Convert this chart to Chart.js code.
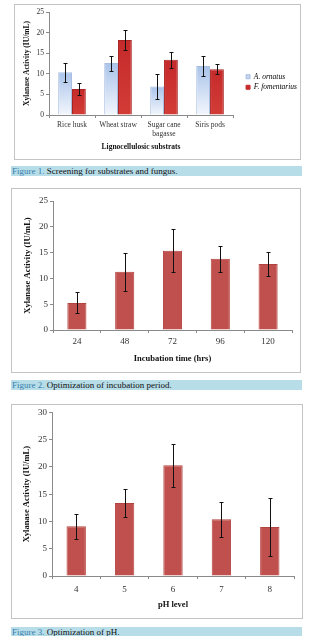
<!DOCTYPE html>
<html>
<head>
<meta charset="utf-8">
<script src="https://cdn.jsdelivr.net/npm/chart.js@4.4.1/dist/chart.umd.min.js"></script>
<style>
  html, body { margin: 0; padding: 0; background: #fff; }
  body { width: 318px; height: 636px; position: relative; overflow: hidden; font-family: "Liberation Serif", serif; }
  .box { position: absolute; border: 1px solid #c4c4c4; background: #fff; }
  .box canvas { display: block; }
  .cap { position: absolute; left: 11px; width: 290px; height: 10px; background: #b7dde8;
         font-size: 9px; line-height: 10px; color: #111; white-space: nowrap; padding-left: 1px; }
  .cap b { font-weight: normal; color: #3a7fae; }
</style>
</head>
<body>
<div class="box" style="left:14px; top:4px;"><canvas id="fig1" width="285" height="154"></canvas></div>
<div class="cap" style="top:166px;"><b>Figure 1.</b> Screening for substrates and fungus.</div>

<div class="box" style="left:11px; top:188px;"><canvas id="fig2" width="288" height="183"></canvas></div>
<div class="cap" style="top:380px;"><b>Figure 2.</b> Optimization of incubation period.</div>

<div class="box" style="left:11px; top:404px;"><canvas id="fig3" width="290" height="213"></canvas></div>
<div class="cap" style="top:627px;"><b>Figure 3.</b> Optimization of pH.</div>

<script>
// Figure 1: substrates x fungus
const substrates = ['Rice husk', 'Wheat straw', ['Sugar cane', 'bagasse'], 'Siris pods'];
const ornatus = [10.4, 12.6, 6.9, 11.9];
const ornatusErr = [2.3, 1.8, 3.1, 2.5];
const fomentarius = [6.3, 18.2, 13.4, 11.1];
const fomentariusErr = [1.4, 2.5, 2.0, 1.25];

// Figure 2: incubation time
const hours = ['24', '48', '72', '96', '120'];
const activityTime = [5.25, 11.3, 15.35, 13.8, 12.8];
const activityTimeErr = [2.05, 3.7, 4.2, 2.55, 2.25];

// Figure 3: pH
const phLevels = ['4', '5', '6', '7', '8'];
const activityPh = [9.1, 13.4, 20.3, 10.4, 9.0];
const activityPhErr = [2.25, 2.5, 3.95, 3.25, 5.35];

const serif = '"Liberation Serif", "Times New Roman", serif';
const axisGray = '#8a8a8a';

// draws +/- error bars on top of the bars, using the y scale
const errorBars = {
    id: 'errorBars',
    afterDatasetsDraw(chart) {
        const ctx = chart.ctx;
        const y = chart.scales.y;
        chart.data.datasets.forEach((ds, i) => {
            if (!ds.errors) return;
            const meta = chart.getDatasetMeta(i);
            meta.data.forEach((bar, j) => {
                const v = ds.data[j], e = ds.errors[j];
                const top = Math.round(y.getPixelForValue(v + e)) + 0.5;
                const bot = Math.round(y.getPixelForValue(v - e)) + 0.5;
                const x = Math.round(bar.x) + 0.5;
                ctx.save();
                ctx.strokeStyle = '#111';
                ctx.lineWidth = 1;
                ctx.beginPath();
                ctx.moveTo(x, top); ctx.lineTo(x, bot);
                ctx.moveTo(x - 2, top); ctx.lineTo(x + 2, top);
                ctx.moveTo(x - 2, bot); ctx.lineTo(x + 2, bot);
                ctx.stroke();
                ctx.restore();
            });
        });
    }
};

function barGradient(c0, c1, fallback) {
    return function (context) {
        const chart = context.chart;
        if (!chart.chartArea || context.raw === undefined) return fallback;
        const y = chart.scales.y;
        const g = chart.ctx.createLinearGradient(0, y.getPixelForValue(context.raw), 0, y.getPixelForValue(0));
        g.addColorStop(0, c0);
        g.addColorStop(1, c1);
        return g;
    };
}

function yAxis(max, width, fontSize, titleSize, titlePad) {
    return {
        min: 0, max: max,
        ticks: { stepSize: 5, color: '#333', padding: 2, font: { family: serif, size: fontSize } },
        grid: { display: true, drawOnChartArea: false, color: axisGray, tickLength: 3 },
        border: { color: axisGray },
        title: { display: true, text: 'Xylanase Activity (IU/mL)', color: '#111',
                 padding: titlePad, font: { family: serif, size: titleSize, weight: 'bold' } },
        afterFit(scale) { scale.width = width; }
    };
}

function xAxis(title, fontSize, titleSize, titlePad, tickPad) {
    return {
        ticks: { color: '#333', padding: tickPad, font: { family: serif, size: fontSize } },
        grid: { display: true, drawOnChartArea: false, color: axisGray, tickLength: 3, offset: true },
        border: { color: axisGray },
        title: { display: true, text: title, color: '#111', padding: titlePad,
                 font: { family: serif, size: titleSize, weight: 'bold' } }
    };
}

new Chart(document.getElementById('fig1'), {
    type: 'bar',
    data: {
        labels: substrates,
        datasets: [{
            label: 'A. ornatus',
            data: ornatus,
            errors: ornatusErr,
            backgroundColor: barGradient('#a9c3ea', '#f3f7fd', '#c9d8f0'),
            borderColor: '#a8bde0',
            borderWidth: 1
        }, {
            label: 'F. fomentarius',
            data: fomentarius,
            errors: fomentariusErr,
            backgroundColor: barGradient('#c52a2b', '#d23c36', '#c9302e'),
            borderColor: '#a82422',
            borderWidth: 1
        }]
    },
    options: {
        responsive: false,
        animation: false,
        layout: { padding: { top: 7, left: 0, right: -7, bottom: 7 } },
        datasets: { bar: { categoryPercentage: 0.6, barPercentage: 1.0 } },
        scales: {
            x: xAxis('Lignocellulosic substrats', 7.5, 7.5, { top: 1, bottom: 0 }, 3),
            y: yAxis(25, 34, 7.5, 7.5, { top: 8, bottom: 0 }),
            // empty spacer between the plot and the legend
            gap: {
                type: 'linear', position: 'right', display: true, min: 0, max: 1,
                grid: { display: false }, border: { display: false }, ticks: { display: false },
                afterFit(scale) { scale.width = 10; }
            }
        },
        plugins: {
            legend: {
                position: 'right',
                maxWidth: 120,
                labels: {
                    boxWidth: 4, boxHeight: 4, padding: 3, color: '#333',
                    font: { family: serif, size: 7.5, style: 'italic' },
                    generateLabels() {
                        return [
                            { text: 'A. ornatus', fillStyle: '#c6d6ef', strokeStyle: '#a8bde0', lineWidth: 1, datasetIndex: 0 },
                            { text: 'F. fomentarius', fillStyle: '#c62a2b', strokeStyle: '#c62a2b', lineWidth: 1, datasetIndex: 1 }
                        ];
                    }
                }
            },
            tooltip: { enabled: false }
        }
    },
    plugins: [errorBars]
});

const barRed = '#c0504d';

new Chart(document.getElementById('fig2'), {
    type: 'bar',
    data: {
        labels: hours,
        datasets: [{
            data: activityTime,
            errors: activityTimeErr,
            backgroundColor: barRed,
            borderColor: '#b3433f',
            borderWidth: 1
        }]
    },
    options: {
        responsive: false,
        animation: false,
        layout: { padding: { top: 12, left: 0, right: 8, bottom: 8 } },
        datasets: { bar: { categoryPercentage: 0.4, barPercentage: 1.0 } },
        scales: {
            x: xAxis('Incubation time (hrs)', 9, 8.5, { top: 4, bottom: 0 }, 3),
            y: yAxis(25, 41, 9, 8.5, { top: 11, bottom: 0 })
        },
        plugins: { legend: { display: false }, tooltip: { enabled: false } }
    },
    plugins: [errorBars]
});

new Chart(document.getElementById('fig3'), {
    type: 'bar',
    data: {
        labels: phLevels,
        datasets: [{
            data: activityPh,
            errors: activityPhErr,
            backgroundColor: barRed,
            borderColor: '#b3433f',
            borderWidth: 1
        }]
    },
    options: {
        responsive: false,
        animation: false,
        layout: { padding: { top: 5, left: 0, right: 8, bottom: 8 } },
        datasets: { bar: { categoryPercentage: 0.4, barPercentage: 1.0 } },
        scales: {
            x: xAxis('pH level', 9, 8.5, { top: 0, bottom: 0 }, 5),
            y: yAxis(30, 40, 9, 8.5, { top: 10, bottom: 0 })
        },
        plugins: { legend: { display: false }, tooltip: { enabled: false } }
    },
    plugins: [errorBars]
});
</script>
</body>
</html>
